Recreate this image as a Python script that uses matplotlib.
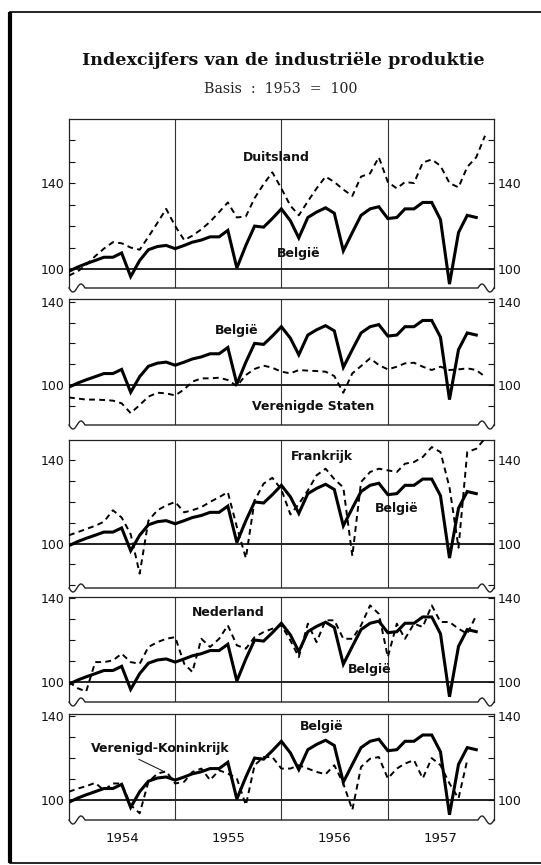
import matplotlib
matplotlib.use("Agg")
import matplotlib.pyplot as plt
import numpy as np
import pandas as pd
from matplotlib.lines import Line2D
from matplotlib.ticker import FixedLocator, FuncFormatter

# ---------------- data (index, 1953 = 100), monthly from Jan 1954 ----------------
months = pd.date_range("1954-01-01", periods=48, freq="MS")

belgie = [99, 101, 102.5, 104, 105.5, 105.5, 107.5, 96.5, 104, 109, 110.5, 111,
          109.5, 111, 112.5, 113.5, 115, 115, 118, 100.5, 111, 120, 119.5, 123.5,
          128, 122.5, 114.5, 124, 126.5, 128.5, 126, 108.5, 117, 125, 128, 129,
          123.5, 124, 128, 128, 131, 131, 123, 93, 117, 125, 124]

duitsland = [97, 99, 102, 106, 109.5, 112.5, 112, 110, 109, 115, 121.5, 128,
             120, 113.5, 115.5, 118.5, 122, 126.5, 131, 124, 124.5, 133, 139.5, 145,
             137.5, 129.5, 125, 131.5, 137.5, 143, 140.5, 137, 134, 143, 144.5, 152,
             140.5, 137.5, 140.5, 140, 149.5, 151, 148, 140, 138, 147.5, 152, 162]

verenigde_staten = [94, 93.5, 93, 93, 92.8, 92.5, 91.2, 86.5, 90.4, 94.4, 96.3, 96,
                    95, 97.9, 101.6, 103.2, 103.2, 103.5, 102.4, 99.5, 104.8, 107.7, 109.3, 108.3,
                    106.4, 105.6, 107.2, 106.9, 106.7, 106.4, 104.3, 96.3, 105.6, 109.1, 112.8, 109.6,
                    107.5, 108.8, 110.4, 110.7, 108.8, 107.2, 108.8, 107.2, 107.5, 108, 107.2, 104]

frankrijk = [104, 105.5, 107, 108.5, 110.5, 116, 112.5, 104.5, 85.5, 111, 116, 118.3,
             120, 115, 116, 117.5, 120, 122.3, 124.7, 108, 93, 120.7, 128.8, 131.6,
             126, 114, 119, 125.5, 132.8, 136, 131, 127, 94, 129.6, 134.4, 136,
             135.2, 134.4, 138.4, 139.2, 141.6, 146.4, 144, 127, 98, 144, 145.6, 150.5]

nederland = [100, 97, 95.5, 109.5, 109.5, 110.3, 113.5, 109.5, 108.7, 116.7, 119, 120.6,
             121.4, 108.7, 104.8, 120.6, 116.7, 120.6, 127, 117.5, 115.9, 121.4, 123.8, 125.4,
             127, 119.8, 111.9, 127.8, 119, 129.4, 129.4, 120.6, 120.6, 127, 136.5, 132.5,
             111.9, 127.8, 120.6, 127.8, 126.2, 136.5, 128.6, 128.6, 125.4, 123, 131.7]

verenigd_koninkrijk = [104, 105.5, 106.6, 108.2, 104.7, 107.9, 107.9, 97.6, 93.7, 108.7, 112.6, 113.7,
                       107.9, 108.7, 113.4, 115, 109.5, 114.2, 112.6, 110.3, 97.6, 116.6, 120.5, 120.5,
                       115, 115, 116.6, 115, 113.4, 112.3, 116.6, 107.9, 95.3, 115.8, 119.7, 120.5,
                       110.3, 115, 117.4, 119, 110.3, 120, 116.6, 107.9, 100.8, 119]

year_labels = ["1954", "1955", "1956", "1957"]
title = "Indexcijfers van de industriële produktie"
subtitle = "Basis  :  1953  =  100"

# ---------------- layout ----------------
W, H = 541, 865
fig = plt.figure(figsize=(W / 100, H / 100), dpi=100)
X0, X1 = 69, 494

panels = [
    dict(other=duitsland, top=119, bot=288, ylim=(91.2, 169.8),
         labels=[("Duitsland", "1955-12-15", 152.0), ("België", "1956-03-01", 107.4)]),
    dict(other=verenigde_staten, top=299, bot=425, ylim=(80.8, 141.3),
         labels=[("België", "1955-07-30", 126.4), ("Verenigde Staten", "1956-04-20", 89.9)]),
    dict(other=frankrijk, top=440, bot=588, ylim=(78.6, 149.8),
         labels=[("Frankrijk", "1956-05-20", 142.0), ("België", "1957-02-01", 117.0)]),
    dict(other=nederland, top=597, bot=702, ylim=(90.5, 140.5),
         labels=[("Nederland", "1955-07-01", 132.9), ("België", "1956-11-01", 106.2)]),
    dict(other=verenigd_koninkrijk, top=714, bot=820, ylim=(90.5, 141.0),
         labels=[("België", "1956-05-20", 135.2), ("Verenigd-Koninkrijk", "1954-11-10", 124.8)]),
]

label_font = dict(family="DejaVu Sans", fontsize=9, fontweight="bold", color="#111111")


def fig_line(xs, ys, **kw):
    xs = np.asarray(xs, float) / W
    ys = 1 - np.asarray(ys, float) / H
    fig.add_artist(Line2D(xs, ys, transform=fig.transFigure, **kw))


def squiggle(yb):
    t = np.linspace(0, 1, 40)
    wl = 16
    xl = X0 + wl * t
    yl = yb + 4 * np.sin(2 * np.pi * t)
    xr = X1 - wl + wl * t
    yr = yb - 4 * np.sin(2 * np.pi * t)
    xs = np.concatenate([xl, xr])
    ys = np.concatenate([yl, yr])
    fig_line(xs, ys, color="#222222", lw=1.0)


axes = []
for p in panels:
    rect = [X0 / W, 1 - p["bot"] / H, (X1 - X0) / W, (p["bot"] - p["top"]) / H]
    ax = fig.add_axes(rect)
    axes.append(ax)
    ax.set_xlim(pd.Timestamp("1954-01-01"), pd.Timestamp("1958-01-01"))
    ax.set_ylim(*p["ylim"])
    lo = int(np.ceil(p["ylim"][0] / 10.0) * 10)
    hi = int(np.floor(p["ylim"][1] / 10.0) * 10)
    ax.yaxis.set_major_locator(FixedLocator(list(range(lo, hi + 1, 10))))
    ax.yaxis.set_major_formatter(FuncFormatter(lambda v, pos: f"{int(v)}" if int(round(v)) in (100, 140) else ""))
    ax.tick_params(axis="y", direction="in", length=4, width=0.8, left=True, right=True,
                   labelleft=True, labelright=True, labelsize=9, pad=3, colors="#111111")
    ax.tick_params(axis="x", bottom=False, labelbottom=False)
    for s in ("top", "left", "right"):
        ax.spines[s].set_linewidth(0.9)
        ax.spines[s].set_color("#222222")
    ax.spines["bottom"].set_visible(False)

    for yr in ("1955-01-01", "1956-01-01", "1957-01-01"):
        ax.axvline(pd.Timestamp(yr), color="#333333", lw=0.8, zorder=1)
    ax.axhline(100, color="#222222", lw=1.4, zorder=1)

    other = p["other"]
    ax.plot(months[:len(other)], other, color="black", lw=1.4,
            linestyle=(0, (3.0, 2.2)), zorder=3)
    ax.plot(months[:len(belgie)], belgie, color="black", lw=2.2, zorder=4,
            solid_joinstyle="miter")

    for txt, d, v in p["labels"]:
        ax.text(pd.Timestamp(d), v, txt, ha="center", va="center", zorder=5, **label_font)

    squiggle(p["bot"])

# leader line for Verenigd-Koninkrijk
axes[4].annotate("", xy=(pd.Timestamp("1954-11-28"), 113.3), xytext=(pd.Timestamp("1954-08-20"), 120.0),
                 arrowprops=dict(arrowstyle="-", lw=0.8, color="#222222"), zorder=5)

# year labels under the last panel
ax5 = axes[4]
ax5.set_xticks([pd.Timestamp(f"{y}-07-02") for y in year_labels])
ax5.set_xticklabels(year_labels)
ax5.tick_params(axis="x", bottom=True, labelbottom=True, length=0, pad=9, labelsize=9.5,
                labelcolor="#111111")

# titles
fig.text(283.5 / W, 1 - 60 / H, title, ha="center", va="center",
         family="DejaVu Serif", fontweight="bold", fontsize=12.6, color="#111111")
fig.text(281 / W, 1 - 89 / H, subtitle, ha="center", va="center",
         family="DejaVu Serif", fontsize=10.2, color="#222222")

# outer frame
fig_line([10, 10], [12, 863], color="black", lw=3.0, solid_capstyle="butt")
fig_line([10, 560], [12, 12], color="black", lw=1.2)
fig_line([10, 560], [863, 863], color="black", lw=1.2)

fig.savefig("out.png", dpi=100, facecolor="white")
